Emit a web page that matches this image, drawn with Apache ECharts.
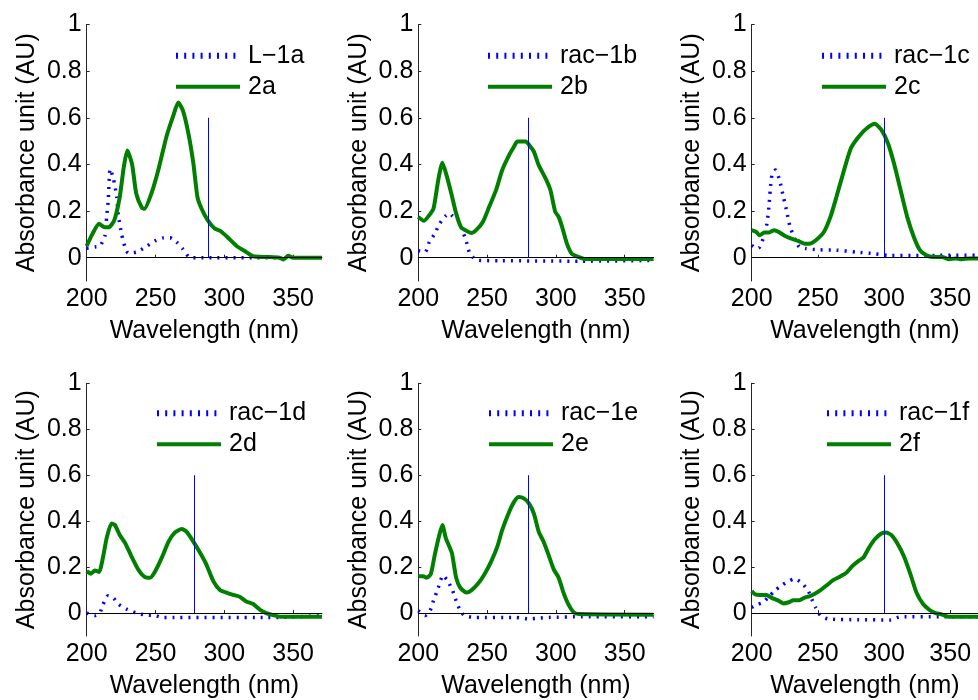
<!DOCTYPE html>
<html>
<head>
<meta charset="utf-8">
<script src="https://cdn.jsdelivr.net/npm/echarts@6/dist/echarts.min.js"></script>
<style>
html,body{margin:0;padding:0;background:#fff;}
#chart{width:978px;height:700px;}
</style>
</head>
<body>
<div id="chart"></div>
<script>
// ---------- data ----------
const xTicks = [200, 250, 300, 350];
const yTicks = [0, 0.2, 0.4, 0.6, 0.8, 1];
const xRange = [200, 371];
const yRange = [-0.1, 1];

const dotNames = ['L\u22121a', 'rac\u22121b', 'rac\u22121c', 'rac\u22121d', 'rac\u22121e', 'rac\u22121f'];
const solidNames = ['2a', '2b', '2c', '2d', '2e', '2f'];
const markerX = [288, 280, 300, 278, 280, 300];
const markerTop = 0.6;

const L1a = [[200,0.04],[206,0.046],[209.7,0.05],[213.3,0.095],[214.5,0.175],[215.7,0.25],[217,0.38],[219.4,0.34],[221.8,0.26],[223,0.18],[225.4,0.10],[227.8,0.046],[230.2,0.02],[236.3,0.024],[243.6,0.049],[249.6,0.072],[255.7,0.085],[260.5,0.086],[265.4,0.067],[269.7,0.039],[273.8,0.006],[276.3,0],[340,0]];
const s2a = [[200,0.05],[204,0.1],[209,0.145],[213,0.13],[216,0.13],[220,0.16],[224,0.26],[227,0.39],[229.5,0.46],[233,0.40],[236,0.275],[240,0.215],[242,0.21],[247,0.275],[252,0.375],[258,0.52],[263,0.61],[266.5,0.665],[270,0.63],[274,0.53],[277.5,0.405],[280.5,0.26],[283.5,0.21],[288,0.16],[293,0.125],[297,0.115],[302,0.09],[309,0.05],[316,0.024],[321,0.006],[331,0.003],[340,0],[343,-0.008],[346.5,0.008],[350,0],[371,0]];

const rac1b = [[200,0.03],[205,0.024],[208,0.067],[212,0.103],[215.5,0.146],[220,0.18],[223,0.19],[225,0.178],[229,0.16],[232,0.118],[235,0.067],[237,0.024],[239.5,0.003],[243,-0.011],[260,-0.013],[319,-0.015],[371,-0.012]];
const s2b = [[200,0.175],[204,0.158],[207,0.175],[211,0.21],[214.5,0.333],[217.5,0.407],[220.5,0.354],[224,0.275],[227.5,0.19],[231,0.132],[235,0.115],[238.5,0.106],[242,0.118],[247,0.154],[251.5,0.218],[256.5,0.29],[261,0.376],[266,0.44],[269.5,0.476],[272,0.498],[278,0.498],[281.5,0.476],[284,0.455],[287.5,0.397],[292.5,0.34],[296,0.29],[299.5,0.197],[302,0.175],[304.5,0.132],[308,0.06],[311.5,0.017],[316.5,0.003],[321,-0.006],[371,-0.006]];

const rac1c = [[200,0.053],[203.5,0.039],[206,0.045],[209.5,0.096],[211.5,0.146],[213,0.218],[214,0.29],[215.5,0.36],[218,0.376],[221,0.333],[224,0.26],[226.5,0.197],[229,0.132],[232.5,0.082],[236,0.046],[241,0.039],[249.5,0.034],[264,0.032],[279,0.024],[293,0.017],[303,0.01],[322,0.009],[342,0.01],[371,0.01]];
const s2c = [[200,0.118],[203.5,0.11],[206,0.096],[209.5,0.108],[213,0.108],[217,0.118],[220.5,0.11],[225.5,0.092],[230,0.082],[235,0.072],[240,0.06],[243.5,0.06],[248.5,0.075],[254.5,0.11],[259.5,0.175],[264,0.26],[269,0.36],[275,0.47],[281,0.52],[287,0.555],[293,0.574],[298,0.548],[303,0.49],[307.5,0.405],[312.5,0.29],[317.5,0.175],[322.5,0.089],[327,0.034],[332,0.01],[337,0.003],[344,0.003],[349,-0.007],[354,-0.003],[358.5,-0.007],[364.5,-0.003],[371,-0.003]];

const rac1d = [[200,0],[206,-0.011],[209.5,0],[212,0.039],[215.5,0.075],[219.5,0.065],[223,0.039],[229,0.017],[236,0],[243.5,-0.009],[249.5,-0.011],[255.5,-0.02],[331,-0.02],[371,-0.012]];
const s2d = [[200,0.182],[203,0.171],[206,0.185],[209,0.179],[212,0.247],[214.5,0.326],[218,0.39],[220.5,0.383],[224,0.34],[228,0.304],[232.5,0.247],[237.5,0.189],[242.5,0.156],[246,0.154],[249.5,0.179],[254.5,0.24],[259.5,0.311],[264,0.35],[269,0.366],[272.5,0.354],[277.5,0.311],[282.5,0.261],[287,0.211],[292,0.139],[297,0.099],[301.5,0.089],[306.5,0.079],[311.5,0.07],[316,0.05],[321,0.039],[326,0.014],[330.5,0],[335.5,-0.009],[340.5,-0.016],[371,-0.016]];

const rac1e = [[200,0.01],[205,-0.011],[208.5,0.01],[211,0.053],[214.5,0.11],[218,0.164],[221.5,0.139],[225,0.096],[227.5,0.053],[230,0.017],[233.5,-0.011],[241,-0.019],[271,-0.019],[280.5,-0.026],[287.5,-0.022],[295,-0.019],[319,-0.016],[371,-0.016]];
const s2e = [[200,0.16],[203.5,0.16],[206,0.154],[209,0.168],[212,0.254],[215,0.333],[217.5,0.383],[220,0.326],[223,0.283],[224.5,0.26],[227.5,0.154],[230.5,0.11],[235,0.089],[238.5,0.099],[243,0.125],[248,0.168],[253,0.225],[257.5,0.29],[261,0.362],[266,0.44],[269.5,0.483],[273,0.505],[277,0.498],[280.5,0.476],[284,0.433],[287.5,0.354],[291,0.311],[295,0.247],[298.5,0.189],[302,0.154],[305.5,0.089],[309,0.039],[313,0.003],[316.5,-0.004],[371,-0.007]];

const rac1f = [[200,0.024],[203.5,0.036],[208.5,0.046],[213.5,0.075],[218,0.1],[223,0.122],[228,0.139],[232.5,0.149],[237.5,0.132],[242.5,0.099],[246,0.053],[248.5,0.022],[252,-0.011],[258,-0.026],[281,-0.029],[305,-0.03],[312.5,-0.016],[341.5,-0.016],[371,-0.016]];
const s2f = [[200,0.096],[202.5,0.082],[206,0.079],[211,0.079],[215.5,0.065],[219.5,0.056],[224,0.042],[228,0.047],[231.5,0.056],[236,0.056],[240,0.067],[243.5,0.073],[247,0.082],[252,0.1],[257,0.122],[261.5,0.143],[266.5,0.158],[271.5,0.175],[276,0.204],[281,0.228],[284.5,0.242],[288.5,0.283],[293,0.321],[298,0.346],[301.5,0.35],[305.5,0.34],[310,0.304],[315,0.247],[320,0.168],[324.5,0.089],[329.5,0.039],[334.5,0.013],[339,0],[344,-0.007],[349,-0.016],[371,-0.016]];

const dotSeries = [L1a, rac1b, rac1c, rac1d, rac1e, rac1f];
const solidSeries = [s2a, s2b, s2c, s2d, s2e, s2f];

// ---------- layout / style ----------
const FONT = "'Liberation Sans', Arial, sans-serif";
const FS = 25;
const BLUE = '#0000ff';
const GREEN = '#007f00';
const AXIS = '#262626';
const colLeft = [86.7, 418.3, 751.7];
const gridW = 235.3;
const rowTop = [24.5, 383.3];
const gridH = 256.5;
const legendLeft = [176, 488, 822, 157, 489, 827];
const legendTop = [40.2, 397.8];

// legend icons: short perpendicular dashes for the dotted series, a bar for the solid one
let dotPath = 'path://';
for (let k = 0; k < 8; k++) dotPath += 'M' + (k * 8.2).toFixed(1) + ',0h2v6h-2z';
dotPath += 'M64,3L64,3z';
const solidPath = 'path://M0,0h64v4h-64z';

const option = {
  animation: false,
  backgroundColor: '#fff',
  grid: [], xAxis: [], yAxis: [], series: [], legend: []
};

for (let i = 0; i < 6; i++) {
  const r = Math.floor(i / 3), c = i % 3;
  option.grid.push({ left: colLeft[c], top: rowTop[r], width: gridW, height: gridH, containLabel: false });
  option.xAxis.push({
    gridIndex: i, type: 'value', min: xRange[0], max: xRange[1],
    name: 'Wavelength (nm)', nameLocation: 'middle', nameGap: 38,
    nameTextStyle: { fontSize: FS, fontFamily: FONT, color: '#000' },
    axisLine: { show: true, lineStyle: { color: AXIS, width: 1 } },
    axisTick: { show: true, inside: true, length: 3, customValues: xTicks, lineStyle: { color: AXIS } },
    axisLabel: { customValues: xTicks, fontSize: FS, fontFamily: FONT, color: '#000', margin: 6 },
    splitLine: { show: false }
  });
  option.yAxis.push({
    gridIndex: i, type: 'value', min: yRange[0], max: yRange[1],
    name: 'Absorbance unit (AU)', nameLocation: 'middle', nameGap: 47,
    nameTextStyle: { fontSize: FS, fontFamily: FONT, color: '#000' },
    axisLine: { show: true, lineStyle: { color: AXIS, width: 1 } },
    axisTick: { show: true, inside: true, length: 3, customValues: yTicks, lineStyle: { color: AXIS } },
    axisLabel: { customValues: yTicks, fontSize: FS, fontFamily: FONT, color: '#000', margin: 5 },
    splitLine: { show: false }
  });
  option.series.push({
    type: 'line', name: dotNames[i], xAxisIndex: i, yAxisIndex: i,
    data: dotSeries[i], symbol: 'none', smooth: 0.2,
    lineStyle: { color: BLUE, width: 3.5, type: [2, 6], cap: 'butt' },
    itemStyle: { color: BLUE },
    markLine: {
      silent: true, symbol: 'none', label: { show: false }, animation: false,
      data: [
        { yAxis: 0, lineStyle: { color: '#000', width: 1, type: 'solid' } },
        [ { coord: [markerX[i], 0], lineStyle: { color: BLUE, width: 1, type: 'solid' } },
          { coord: [markerX[i], markerTop] } ]
      ]
    },
    z: 2
  });
  option.series.push({
    type: 'line', name: solidNames[i], xAxisIndex: i, yAxisIndex: i,
    data: solidSeries[i], symbol: 'none', smooth: 0.2,
    lineStyle: { color: GREEN, width: 4 },
    itemStyle: { color: GREEN },
    z: 3
  });
  option.legend.push({
    orient: 'vertical', left: legendLeft[i], top: legendTop[r],
    padding: 0, itemGap: 0, itemWidth: 64, itemHeight: 14,
    selectedMode: false,
    data: [ { name: dotNames[i], icon: dotPath }, { name: solidNames[i], icon: solidPath } ],
    textStyle: { fontSize: FS, fontFamily: FONT, color: '#000', lineHeight: 25, padding: [6, 0, 0, 3] }
  });
}

const chart = echarts.init(document.getElementById('chart'), null, { renderer: 'canvas' });
chart.setOption(option);
</script>
</body>
</html>
